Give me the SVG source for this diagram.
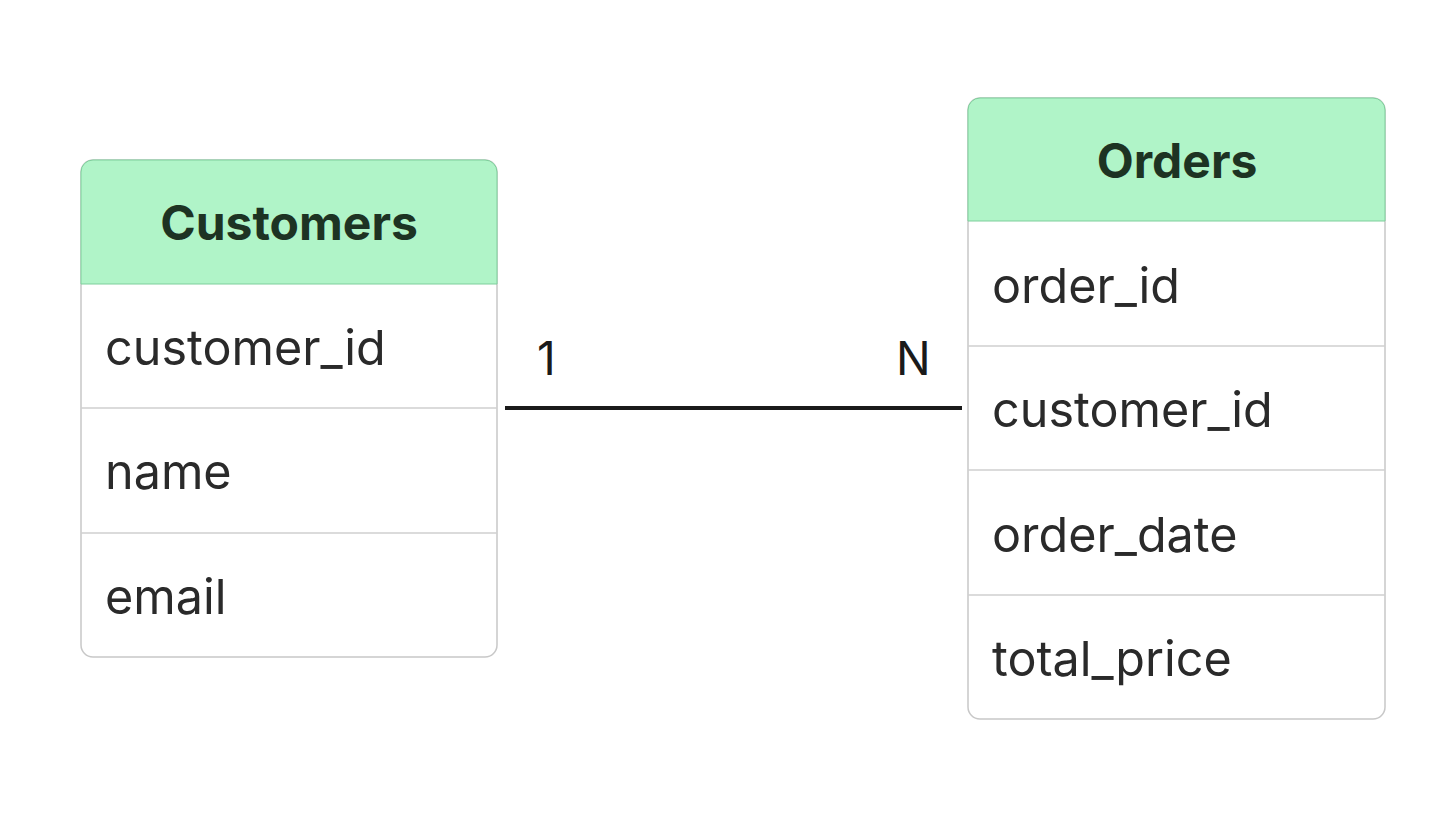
<svg xmlns="http://www.w3.org/2000/svg" width="1456" height="818" viewBox="0 0 1456 818">
<style>
.box{fill:#fff;stroke:#c8c8c8;stroke-width:1.5}
.hdr{fill:#b0f4c8;stroke:#7fcf9c;stroke-width:1}
.sep{stroke:#cfcfcf;stroke-width:1.5}
.h{font-family:Inter,"Liberation Sans",sans-serif;font-weight:700;font-size:48px;fill:#1d3323;text-anchor:middle}
.f{font-family:Inter,"Liberation Sans",sans-serif;font-size:48.5px;fill:#2a2a2a}
.l{font-family:Inter,"Liberation Sans",sans-serif;font-size:46px;fill:#1a1a1a}
</style>
<rect width="1456" height="818" fill="#fff"/>
<g id="customers">
<rect class="box" x="81" y="160" width="416" height="497" rx="12"/>
<path class="hdr" d="M81,284 V172 a12,12 0 0 1 12,-12 H485 a12,12 0 0 1 12,12 V284 Z"/>
<line class="sep" x1="81" y1="408" x2="497" y2="408"/>
<line class="sep" x1="81" y1="533" x2="497" y2="533"/>
<text class="h" x="289" y="240">Customers</text>
<text class="f" x="105" y="365">customer_id</text>
<text class="f" x="105" y="489">name</text>
<text class="f" x="105" y="614">email</text>
</g>
<g id="orders">
<rect class="box" x="968" y="98" width="417" height="621" rx="12"/>
<path class="hdr" d="M968,221 V110 a12,12 0 0 1 12,-12 H1373 a12,12 0 0 1 12,12 V221 Z"/>
<line class="sep" x1="968" y1="346" x2="1385" y2="346"/>
<line class="sep" x1="968" y1="470" x2="1385" y2="470"/>
<line class="sep" x1="968" y1="595" x2="1385" y2="595"/>
<text class="h" x="1177" y="178">Orders</text>
<text class="f" x="992" y="303">order_id</text>
<text class="f" x="992" y="427">customer_id</text>
<text class="f" x="992" y="552">order_date</text>
<text class="f" x="992" y="676">total_price</text>
</g>
<g id="connectors">
<line x1="505" y1="408" x2="962" y2="408" stroke="#1a1a1a" stroke-width="4"/>
<text class="l" x="537" y="375">1</text>
<text class="l" x="896" y="375">N</text>
</g>
</svg>
